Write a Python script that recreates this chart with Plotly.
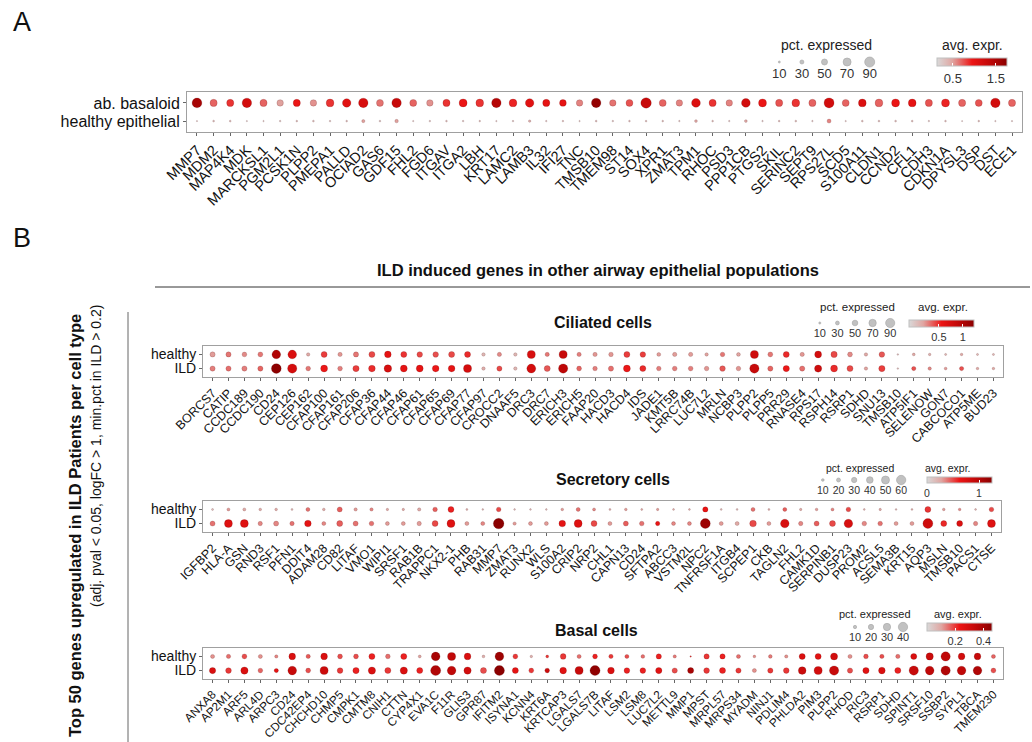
import plotly.graph_objects as go

W, H = 1032, 742
FONT = "Liberation Sans, Arial, sans-serif"

# ---------------- Panel A data ----------------
A_genes = ["MMP7","MDM2","MAP4K4","MDK","MARCKSL1","PGM2L1","PCSK1N","PLPP2","PMEPA1","PALLD",
           "OCIAD2","GAS6","GDF15","FHL2","FGD6","ITGAV","ITGA2","LBH","KRT17","LAMC2",
           "LAMB3","IL32","IFI27","TNC","TMSB10","TMEM98","ST14","SOX4","XPR1","ZMAT3",
           "TPM1","RHOC","PSD3","PPP1CB","PTGS2","SKIL","SERINC2","SEPT9","RPS27L","SCD5",
           "S100A11","CLDN1","CCND2","CFL1","CDH3","CDKN1A","DPYSL3","DSP","DST","ECE1"]
A_rows = ["healthy epithelial", "ab. basaloid"]
A_basaloid_pct = [88,62,62,85,62,55,62,55,68,75, 85,60,85,60,55,62,70,68,85,68,
                  75,62,58,55,85,55,60,95,60,55, 78,62,55,78,70,62,68,62,90,60,
                  68,68,70,68,62,70,62,60,85,62]
A_basaloid_expr = [1.55,0.70,0.85,1.20,0.70,0.50,0.95,0.55,0.85,1.05, 1.15,0.65,1.30,0.70,0.55,0.85,0.95,0.85,1.45,0.90,
                   1.05,1.00,1.00,0.60,1.70,0.65,0.75,1.30,0.70,0.60, 1.10,0.85,0.60,1.20,0.95,0.75,0.85,0.70,1.20,0.70,
                   1.10,0.70,0.95,1.00,0.75,0.90,0.70,0.75,1.20,0.70]
A_healthy_pct = [3,8,8,3,4,6,7,8,6,7, 22,7,25,4,6,7,6,6,4,6,
                 14,5,6,4,8,6,7,7,7,5, 18,7,5,18,5,7,8,5,30,4,
                 8,8,8,8,5,7,2,7,4,4]
A_healthy_expr = [0.25,0.30,0.30,0.20,0.25,0.25,0.30,0.30,0.25,0.30, 0.50,0.25,0.50,0.25,0.25,0.30,0.25,0.30,0.25,0.25,
                  0.40,0.25,0.30,0.25,0.30,0.25,0.30,0.30,0.30,0.25, 0.45,0.30,0.25,0.45,0.25,0.30,0.30,0.25,0.60,0.25,
                  0.30,0.30,0.30,0.30,0.25,0.30,0.20,0.30,0.25,0.25]
A_size_legend = [10, 30, 50, 70, 90]
A_color_ticks = [0.5, 1.5]
A_color_range = [0.13, 1.76]

# ---------------- Ciliated ----------------
cil_genes = ["BORCS7","CATIP","CCDC189","CCDC190","CD24","CEP126","CEP162","CFAP100","CFAP161","CFAP206",
             "CFAP36","CFAP44","CFAP46","CFAP61","CFAP65","CFAP69","CFAP77","CFAP97","CROCC2","DNAAF5",
             "DRC3","DRC7","ERICH3","ERICH5","FAAP20","HACD3","HACD4","IDS","JADE1","KMT5B",
             "LRRC74B","LUC7L2","MRLN","NCBP3","PLPP2","PLPP5","PRR29","RNASE4","RPS17","RSPH14",
             "RSRP1","SDHD","SNU13","TMSB10","ATP5IF1","SELENOW","GON7","CABCOCO1","ATP5ME","BUD23"]
cil_rows = ["ILD", "healthy"]
cil_healthy_pct = [45,45,40,42,85,85,25,55,35,45, 55,62,55,50,50,55,55,25,35,25,
                   78,35,78,35,35,38,55,50,30,35, 35,25,38,30,78,42,55,35,65,58,
                   42,25,50,5,18,15,10,15,10,10]
cil_healthy_expr = [0.20,0.30,0.25,0.30,1.00,0.70,0.15,0.45,0.22,0.30, 0.42,0.60,0.48,0.42,0.40,0.42,0.50,0.08,0.25,0.08,
                    0.72,0.30,0.85,0.28,0.22,0.22,0.45,0.45,0.20,0.20, 0.20,0.18,0.30,0.18,0.80,0.30,0.50,0.22,0.75,0.42,
                    0.25,0.15,0.38,0.00,0.15,0.10,0.08,0.15,0.08,0.08]
cil_ild_pct = [45,45,45,45,98,92,40,65,40,58, 62,72,65,65,62,62,78,25,45,25,
               88,55,92,42,38,45,65,55,38,40, 40,38,50,38,92,45,58,45,68,65,
               55,25,58,5,35,25,18,35,15,15]
cil_ild_expr = [0.28,0.32,0.28,0.35,1.22,0.75,0.30,0.55,0.28,0.45, 0.50,0.72,0.60,0.60,0.55,0.60,0.75,0.12,0.42,0.08,
                0.75,0.38,0.92,0.35,0.28,0.32,0.55,0.50,0.28,0.28, 0.28,0.22,0.38,0.22,0.85,0.35,0.55,0.32,0.80,0.50,
                0.42,0.18,0.45,0.00,0.40,0.25,0.20,0.40,0.15,0.15]
cil_size_legend = [10, 30, 50, 70, 90]
cil_color_ticks = [0.5, 1.0]
cil_color_range = [-0.12, 1.23]

# ---------------- Secretory ----------------
sec_genes = ["IGFBP2","HLA-A","GSN","RND3","RSF1","PFN1","DDIT4","ADAM28","CD82","LITAF",
             "VMO1","WIPI1","SRSF1","RAB1B","TRAPPC1","NKX2-1","PHB","RAB31","MMP7","ZMAT3",
             "RUNX2","WLS","S100A2","CRIP2","NRP2","CHL1","CAPN13","CD24","SFTPA2","ABCC3",
             "VSTM2L","NPC2","TNFRSF1A","ITGB4","SCPEP1","CKB","TAGLN2","FHL2","CAMK1D","SERPINB1",
             "DUSP23","PROM2","ACSL5","SEMA3B","KRT15","AQP3","MSLN","TMSB10","PACS1","CTSE"]
sec_rows = ["ILD", "healthy"]
sec_healthy_pct = [5,13,13,10,10,5,20,10,28,15, 15,8,8,15,25,35,5,3,25,3,
                   3,3,10,20,13,5,10,5,8,4, 4,30,4,4,20,5,20,8,10,13,
                   25,4,8,3,4,35,10,10,4,25]
sec_healthy_expr = [0.15,0.30,0.25,0.25,0.25,0.15,0.40,0.25,0.45,0.30, 0.35,0.25,0.25,0.25,0.45,0.60,0.20,0.15,0.50,0.15,
                    0.15,0.15,0.30,0.40,0.35,0.20,0.30,0.25,0.30,0.25, 0.25,0.65,0.15,0.15,0.40,0.20,0.45,0.25,0.30,0.35,
                    0.50,0.20,0.25,0.15,0.20,0.55,0.30,0.35,0.20,0.50]
sec_ild_pct = [28,50,50,23,28,23,40,20,35,28, 25,20,20,23,35,50,20,20,70,15,
               20,20,40,50,35,20,28,25,23,20, 20,65,20,20,40,20,55,23,28,35,
               55,25,25,20,20,65,35,35,23,50]
sec_ild_expr = [0.40,0.72,0.72,0.35,0.35,0.40,0.68,0.35,0.45,0.40, 0.40,0.30,0.30,0.30,0.50,0.72,0.30,0.35,1.25,0.30,
                0.30,0.30,0.68,0.72,0.50,0.30,0.45,0.40,0.65,0.35, 0.35,1.15,0.30,0.25,0.50,0.30,0.78,0.35,0.45,0.50,
                0.78,0.35,0.40,0.30,0.30,0.85,0.58,0.75,0.35,0.72]
sec_size_legend = [10, 20, 30, 40, 50, 60]
sec_color_ticks = [0, 1]
sec_color_range = [0.0, 1.25]

# ---------------- Basal ----------------
bas_genes = ["ANXA8","AP2M1","ARF5","ARL4D","ARPC3","CD24","CDC42EP4","CHCHD10","CHMP5","CMPK1",
             "CMTM8","CNIH1","CTTN","CYP4X1","EVA1C","F11R","GLIS3","GPR87","IFITM2","ISYNA1",
             "KCNN4","KRT6A","KRTCAP3","LGALS7","LGALS7B","LITAF","LSM2","LSM8","LUC7L2","METTL9",
             "MMP1","MPST","MRPL57","MRPS34","MYADM","NINJ1","PDLIM4","PHLDA2","PIM3","PLPP2",
             "RHOD","RIC3","RSRP1","SDHD","SPINT1","SRSF10","SSBP2","SYPL1","TBCA","TMEM230"]
bas_rows = ["ILD", "healthy"]
bas_healthy_pct = [14,15,18,14,10,27,15,27,18,18, 24,17,24,8,37,34,27,7,37,18,
                   6,8,22,14,18,15,14,12,20,10, 1,20,20,14,7,12,10,24,24,29,
                   14,17,15,15,24,30,40,27,27,14]
bas_healthy_expr = [0.12,0.15,0.18,0.12,0.13,0.28,0.17,0.28,0.18,0.18, 0.22,0.15,0.22,0.10,0.40,0.35,0.28,0.08,0.42,0.20,
                    0.08,0.20,0.20,0.15,0.22,0.20,0.18,0.15,0.22,0.14, 0.20,0.20,0.22,0.15,0.12,0.14,0.12,0.28,0.26,0.30,
                    0.12,0.18,0.18,0.15,0.28,0.32,0.35,0.30,0.33,0.16]
bas_ild_pct = [25,22,30,17,15,37,18,34,22,25, 30,24,30,24,44,37,30,24,44,24,
               18,17,27,34,44,27,22,22,25,20, 24,22,24,20,14,20,22,32,34,40,
               20,25,27,24,40,37,40,37,37,18]
bas_ild_expr = [0.28,0.20,0.28,0.16,0.25,0.33,0.18,0.32,0.20,0.22, 0.28,0.20,0.28,0.22,0.38,0.35,0.30,0.18,0.46,0.25,
                0.20,0.32,0.26,0.33,0.45,0.28,0.22,0.22,0.26,0.18, 0.40,0.20,0.22,0.20,0.12,0.20,0.20,0.32,0.30,0.33,
                0.18,0.26,0.28,0.22,0.33,0.35,0.38,0.35,0.38,0.18]
bas_size_legend = [10, 20, 30, 40]
bas_color_ticks = [0.2, 0.4]
bas_color_range = [0.0, 0.46]

COLORSCALE = [[0.0, "#d9d9d9"], [0.22, "#e0a6a2"], [0.5, "#ec1515"], [0.75, "#c20808"], [1.0, "#8b0000"]]


def px_x(p):
    return p / W


def px_y(p):
    return 1 - p / H


panels = [
    dict(genes=A_genes, rows=A_rows,
         data=[(A_healthy_pct, A_healthy_expr), (A_basaloid_pct, A_basaloid_expr)],
         size=(1.0, 0.10), crange=A_color_range, cticks=A_color_ticks, legend=A_size_legend,
         box=(187, 1022, 92, 132), tickfont=14.5, yfont=16,
         leg_x=(768, 881), leg_y=62, leg_font=13, leg_title_y=45, leg_title_x=826, leg_title_font=14,
         cb=(937, 70, 58, 8), cb_title_x=972, cb_font=13, title=None),
    dict(genes=cil_genes, rows=cil_rows,
         data=[(cil_ild_pct, cil_ild_expr), (cil_healthy_pct, cil_healthy_expr)],
         size=(1.2, 0.088), crange=cil_color_range, cticks=cil_color_ticks, legend=cil_size_legend,
         box=(203, 1003, 346, 377), tickfont=12.5, yfont=14,
         leg_x=(811, 899), leg_y=323, leg_font=11, leg_title_y=307, leg_title_x=857, leg_title_font=11.5,
         cb=(909, 65, 320, 7), cb_title_x=943, cb_font=11, title=("Ciliated cells", 603, 322)),
    dict(genes=sec_genes, rows=sec_rows,
         data=[(sec_ild_pct, sec_ild_expr), (sec_healthy_pct, sec_healthy_expr)],
         size=(1.3, 0.133), crange=sec_color_range, cticks=sec_color_ticks, legend=sec_size_legend,
         box=(203, 1001, 501, 532), tickfont=12.5, yfont=14,
         leg_x=(815, 909), leg_y=480, leg_font=10.5, leg_title_y=468, leg_title_x=860, leg_title_font=10.5,
         cb=(927, 65, 477, 6), cb_title_x=948, cb_font=10.5, title=("Secretory cells", 613, 480)),
    dict(genes=bas_genes, rows=bas_rows,
         data=[(bas_ild_pct, bas_ild_expr), (bas_healthy_pct, bas_healthy_expr)],
         size=(1.3, 0.20), crange=bas_color_range, cticks=bas_color_ticks, legend=bas_size_legend,
         box=(203, 1003, 648, 679), tickfont=11.8, yfont=14,
         leg_x=(847, 911), leg_y=627, leg_font=11, leg_title_y=614, leg_title_x=875, leg_title_font=11,
         cb=(927, 65, 623, 8), cb_title_x=958, cb_font=11, title=("Basal cells", 596, 630)),
]

fig = go.Figure()
layout = dict(
    width=W, height=H, margin=dict(l=0, r=0, t=0, b=0),
    paper_bgcolor="white", plot_bgcolor="white",
    font=dict(family=FONT, color="#111"), showlegend=False,
)
annotations = []
shapes = []

for i, p in enumerate(panels, start=1):
    a, b = p["size"]
    ax = "" if i == 1 else str(i)
    for rname, (pct, expr) in zip(p["rows"], p["data"]):
        fig.add_trace(go.Scatter(
            x=p["genes"], y=[rname] * len(p["genes"]), mode="markers",
            marker=dict(size=[a + b * v for v in pct], color=expr, coloraxis="coloraxis" + ax,
                        line=dict(width=0.5, color="rgba(70,0,0,0.35)"), opacity=1),
            xaxis="x" + ax, yaxis="y" + ax, cliponaxis=False, hoverinfo="x+y"))
    x0, x1, y0, y1 = p["box"]
    layout["xaxis" + ax] = dict(
        domain=[px_x(x0), px_x(x1)], anchor="y" + ax, type="category",
        categoryorder="array", categoryarray=p["genes"], range=[-0.6, len(p["genes"]) - 0.4],
        tickmode="array", tickvals=p["genes"], ticktext=p["genes"],
        tickangle=-45, tickfont=dict(size=p["tickfont"], family=FONT, color="#111"),
        showline=True, mirror=True, linecolor="#a0a0a0", linewidth=1,
        ticks="outside", ticklen=3, tickcolor="#666", showgrid=False, zeroline=False,
        automargin=False, fixedrange=True)
    layout["yaxis" + ax] = dict(
        domain=[px_y(y1), px_y(y0)], anchor="x" + ax, type="category",
        categoryorder="array", categoryarray=p["rows"], range=[-0.6, 1.6],
        tickmode="array", tickvals=p["rows"], ticktext=p["rows"],
        tickfont=dict(size=p["yfont"], family=FONT, color="#111"),
        showline=True, mirror=True, linecolor="#a0a0a0", linewidth=1,
        ticks="outside", ticklen=3, tickcolor="#666", showgrid=False, zeroline=False,
        automargin=False, fixedrange=True)
    # colour axis and horizontal colour bar
    cbx, cbw, cby, cbh = p["cb"]
    layout["coloraxis" + ax] = dict(
        colorscale=COLORSCALE, cmin=p["crange"][0], cmax=p["crange"][1],
        colorbar=dict(orientation="h", x=px_x(cbx), xanchor="left", y=px_y(cby), yanchor="top",
                      len=cbw, lenmode="pixels", thickness=cbh, thicknessmode="pixels",
                      xpad=0, ypad=0, outlinewidth=1, outlinecolor="#c0c0c0",
                      tickvals=p["cticks"], ticks="inside", ticklen=3, tickcolor="white",
                      tickfont=dict(size=p["cb_font"], family=FONT, color="#333"),
                      title=dict(text="")))
    annotations.append(dict(text="avg. expr.", x=px_x(p["cb_title_x"]), y=px_y(p["leg_title_y"]),
                            xref="paper", yref="paper", showarrow=False, xanchor="center", yanchor="middle",
                            font=dict(size=p["leg_title_font"], family=FONT, color="#222")))
    # size legend
    li = str(i + 4)
    fig.add_trace(go.Scatter(
        x=[str(v) for v in p["legend"]], y=[0] * len(p["legend"]), mode="markers",
        marker=dict(size=[a + b * v for v in p["legend"]], color="#a8a8a8",
                    line=dict(width=0.6, color="#808080")),
        xaxis="x" + li, yaxis="y" + li, cliponaxis=False, hoverinfo="skip"))
    lx0, lx1 = p["leg_x"]
    ly = p["leg_y"]
    layout["xaxis" + li] = dict(
        domain=[px_x(lx0), px_x(lx1)], anchor="y" + li, type="category",
        range=[-0.5, len(p["legend"]) - 0.5], showline=False, ticks="", showgrid=False,
        zeroline=False, tickfont=dict(size=p["leg_font"], family=FONT, color="#333"),
        automargin=False, fixedrange=True)
    layout["yaxis" + li] = dict(
        domain=[px_y(ly + 2), px_y(ly - 2)], anchor="x" + li, range=[-1, 1], visible=False,
        fixedrange=True)
    annotations.append(dict(text="pct. expressed", x=px_x(p["leg_title_x"]), y=px_y(p["leg_title_y"]),
                            xref="paper", yref="paper", showarrow=False, xanchor="center", yanchor="middle",
                            font=dict(size=p["leg_title_font"], family=FONT, color="#222")))
    if p["title"]:
        t, tx, ty = p["title"]
        annotations.append(dict(text="<b>%s</b>" % t, x=px_x(tx), y=px_y(ty), xref="paper", yref="paper",
                                showarrow=False, xanchor="center", yanchor="middle",
                                font=dict(size=16, family=FONT, color="#111")))

annotations += [
    dict(text="A", x=px_x(22), y=px_y(22), xref="paper", yref="paper", showarrow=False,
         xanchor="center", yanchor="middle", font=dict(size=27, family=FONT, color="#111")),
    dict(text="B", x=px_x(22), y=px_y(238), xref="paper", yref="paper", showarrow=False,
         xanchor="center", yanchor="middle", font=dict(size=27, family=FONT, color="#111")),
    dict(text="<b>ILD induced genes in other airway epithelial populations</b>", x=px_x(598), y=px_y(270),
         xref="paper", yref="paper", showarrow=False, xanchor="center", yanchor="middle",
         font=dict(size=16.5, family=FONT, color="#111")),
    dict(text="<b>Top 50 genes upregulated in ILD Patients per cell type</b>", x=px_x(75), y=px_y(526),
         xref="paper", yref="paper", showarrow=False, textangle=-90, xanchor="center", yanchor="middle",
         font=dict(size=16.5, family=FONT, color="#111")),
    dict(text="(adj. pval < 0.05, logFC > 1, min.pct in ILD > 0.2)", x=px_x(96), y=px_y(456),
         xref="paper", yref="paper", showarrow=False, textangle=-90, xanchor="center", yanchor="middle",
         font=dict(size=14, family=FONT, color="#111")),
]
shapes += [
    dict(type="line", xref="paper", yref="paper", x0=px_x(155), x1=px_x(1030), y0=px_y(287), y1=px_y(287),
         line=dict(color="#333", width=1)),
    dict(type="line", xref="paper", yref="paper", x0=px_x(128), x1=px_x(128), y0=px_y(312), y1=px_y(742),
         line=dict(color="#666", width=1)),
]
layout["annotations"] = annotations
layout["shapes"] = shapes
fig.update_layout(**layout)
fig.write_html("out.html", config={"displayModeBar": False},
               post_script="document.body.style.margin='0';document.body.style.overflow='hidden';")
